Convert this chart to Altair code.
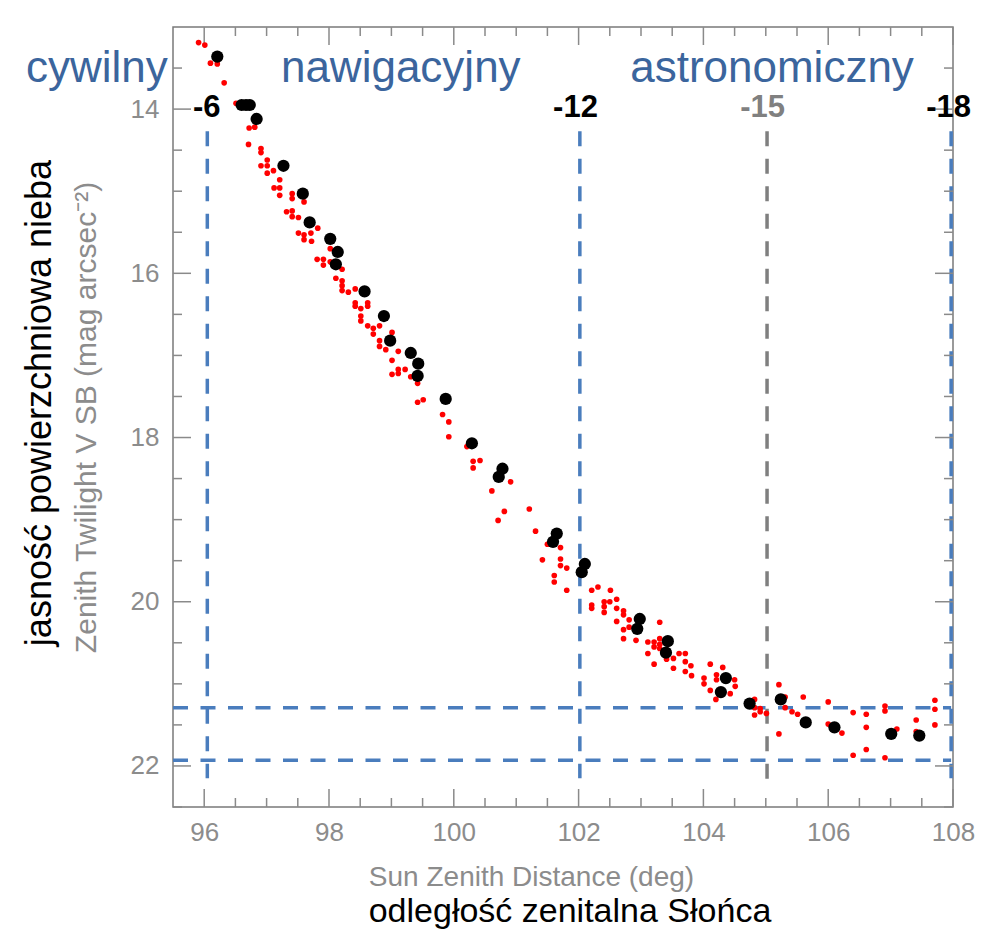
import altair as alt
import pandas as pd

# ---------------- data ----------------
red_x = [95.91, 96.01, 96.10, 96.21, 96.32, 96.51, 96.72, 96.81, 96.71, 96.91,
         96.91, 97.01, 96.91, 97.01, 97.11, 97.01, 97.21, 97.12, 97.21, 97.21,
         97.41, 97.41, 97.60, 97.32, 97.41, 97.41, 97.51, 97.82, 97.51, 97.60,
         97.71, 97.60, 97.72,
         98.02, 97.81, 97.91, 97.91, 98.02, 98.21, 98.11, 98.21, 98.21, 98.21,
         98.31, 98.42, 98.42, 98.42, 98.51, 98.62, 98.62, 98.51, 98.51, 98.62,
         98.71, 98.81, 98.71, 99.01, 98.81, 98.81, 98.91, 99.11, 99.01, 99.01,
         99.11, 99.11, 99.22, 99.31, 99.42, 99.42, 99.51, 99.82, 99.92,
         99.92, 100.21, 100.31, 100.42, 100.31, 100.91, 100.61, 100.81, 100.71, 101.21,
         101.31, 101.50, 101.71, 101.42, 101.71, 101.71, 101.81, 101.61, 101.61, 101.81,
         102.21, 102.31, 102.51, 102.21, 102.21, 102.41, 102.41, 102.41, 102.50, 102.61,
         102.61, 102.72, 102.72, 102.61, 102.81, 102.72, 102.72, 102.81, 102.92, 103.11,
         103.21, 103.21, 103.11, 103.30, 103.30, 103.30, 103.30, 103.21, 103.41, 103.52,
         103.52, 103.61, 103.71, 103.71, 103.80, 103.71, 103.81, 104.11, 104.01, 104.01,
         104.21, 104.21, 104.31, 104.11, 104.20, 104.43, 104.50, 104.51, 104.82, 104.82,
         104.91, 104.91, 104.82, 105.01, 105.21, 105.21, 105.31, 105.31, 105.42, 105.51,
         105.60, 106.00, 106.00, 106.22, 106.40, 106.61, 106.61, 106.40, 106.61, 106.91,
         106.91, 106.91, 107.10, 107.41, 107.41, 107.71, 107.71, 107.71]
red_y = [13.19, 13.22, 13.44, 13.45, 13.68, 13.93, 14.23, 14.22, 14.43, 14.48,
         14.53, 14.62, 14.69, 14.69, 14.75, 14.78, 14.86, 14.96, 14.96, 15.05,
         15.03, 15.09, 15.13, 15.25, 15.24, 15.31, 15.32, 15.45, 15.51, 15.53,
         15.51, 15.59, 15.61,
         15.70, 15.83, 15.83, 15.90, 15.86, 15.95, 16.06, 16.09, 16.15, 16.21,
         16.23, 16.19, 16.36, 16.40, 16.43, 16.36, 16.40, 16.52, 16.58, 16.64,
         16.67, 16.64, 16.74, 16.72, 16.82, 16.89, 16.93, 16.95, 17.06, 17.23,
         17.17, 17.22, 17.17, 17.26, 17.34, 17.57, 17.54, 17.72, 17.81,
         17.99, 18.11, 18.29, 18.28, 18.37, 18.54, 18.65, 18.90, 19.01, 18.87,
         19.14, 19.30, 19.34, 19.49, 19.48, 19.56, 19.59, 19.68, 19.76, 19.86,
         19.86, 19.82, 19.86, 20.04, 20.08, 20.00, 20.06, 20.13, 20.00, 19.97,
         20.08, 20.11, 20.16, 20.24, 20.22, 20.34, 20.45, 20.31, 20.47, 20.49,
         20.49, 20.55, 20.63, 20.25, 20.45, 20.52, 20.57, 20.76, 20.70, 20.81,
         20.69, 20.63, 20.63, 20.73, 20.78, 20.85, 20.90, 20.76, 20.93, 21.00,
         20.89, 20.95, 20.80, 21.08, 21.19, 21.12, 20.95, 21.03, 21.19, 21.29,
         21.30, 21.34, 21.38, 21.36, 21.01, 21.61, 21.16, 21.29, 21.34, 21.37,
         21.16, 21.22, 21.49, 21.60, 21.35, 21.37, 21.53, 21.87, 21.80, 21.27,
         21.33, 21.90, 21.55, 21.44, 21.58, 21.20, 21.31, 21.50]

black_x = [96.21, 96.60, 96.67, 96.73, 96.84, 97.27, 97.58, 97.69, 98.02, 98.14,
           98.11, 98.57, 98.88, 98.98, 99.31, 99.43, 99.42, 99.87, 100.29, 100.78,
           100.72, 101.65, 101.59, 102.10, 102.05, 102.98, 102.94, 103.43, 103.40, 104.36,
           104.28, 104.74, 105.24, 105.64, 106.10, 107.01, 107.46]
black_y = [13.36, 13.95, 13.95, 13.95, 14.12, 14.69, 15.03, 15.38, 15.58, 15.74,
           15.89, 16.22, 16.52, 16.82, 16.97, 17.10, 17.25, 17.53, 18.07, 18.38,
           18.48, 19.17, 19.27, 19.54, 19.64, 20.21, 20.33, 20.48, 20.62, 20.93,
           21.10, 21.24, 21.19, 21.47, 21.53, 21.61, 21.63]

x_major = [96, 98, 100, 102, 104, 106, 108]
x_minor = [96.5, 97, 97.5, 98.5, 99, 99.5, 100.5, 101, 101.5, 102.5, 103, 103.5,
           104.5, 105, 105.5, 106.5, 107, 107.5]
y_major = [14, 16, 18, 20, 22]
y_minor = [13.5, 14.5, 15, 15.5, 16.5, 17, 17.5, 18.5, 19, 19.5, 20.5, 21, 21.5, 22.5]

phase_names = ["cywilny", "nawigacyjny", "astronomiczny"]
phase_x = [94.28, 99.15, 105.10]
phase_y = [13.67, 13.67, 13.67]

angle_labels = ["-6", "-12", "-15", "-18"]
angle_x = [96.04, 101.95, 104.95, 107.93]
angle_y = [14.10, 14.10, 14.10, 14.10]
angle_colors = ["#000000", "#000000", "#808080", "#000000"]

vline_x = [96.05, 102.02, 105.02, 107.97]
vline_top = [14.27, 14.27, 14.27, 14.27]
vline_bottom = [22.15, 22.15, 22.18, 22.15]
vline_colors = ["#4a7dbd", "#4a7dbd", "#7f7f7f", "#4a7dbd"]

hline_y = [21.29, 21.93]
hline_x0 = [95.5, 95.5]
hline_x1 = [107.97, 107.97]

X_DOM = [95.5, 108]
Y_DOM = [13.0, 22.5]
W = 780
H = 780

FONT = "Liberation Sans"
GRAY = "#8c8c8c"
TICK = "#8a8a8a"
BLUE_TXT = "#3b659d"

xs = alt.Scale(domain=X_DOM, nice=False, zero=False)
ys = alt.Scale(domain=Y_DOM, nice=False, zero=False, reverse=True)

AX_X = alt.Axis(
    values=x_major, title="Sun Zenith Distance (deg)", ticks=False, domain=False,
    grid=False, labelFontSize=26, labelColor=GRAY, labelFont=FONT,
    labelPadding=12, labelFlush=False, titleFontSize=28, titleFontWeight="normal",
    titleColor=GRAY, titleFont=FONT, titlePadding=18, titleX=358)
AX_Y = alt.Axis(
    values=y_major, title="Zenith Twilight V SB (mag arcsec⁻²)", ticks=False,
    domain=False, grid=False, labelFontSize=26, labelColor=GRAY,
    labelFont=FONT, labelPadding=14, labelFlush=False,
    titleFontSize=30, titleFontWeight="normal", titleColor=GRAY,
    titleFont=FONT, titlePadding=29)


def xq(f):
    return alt.X(f, type="quantitative", scale=xs, axis=AX_X)


def yq(f):
    return alt.Y(f, type="quantitative", scale=ys, axis=AX_Y)


red = alt.Chart(pd.DataFrame({"x": red_x, "y": red_y})).mark_circle(
    size=32, color="#ff0000", opacity=1
).encode(x=xq("x"), y=yq("y"))

black = alt.Chart(pd.DataFrame({"x": black_x, "y": black_y})).mark_circle(
    size=150, color="#000000", opacity=1
).encode(x=xq("x"), y=yq("y"))

vlines = alt.Chart(pd.DataFrame({"x": vline_x, "y0": vline_top, "y1": vline_bottom,
                                 "c": vline_colors})).mark_rule(
    strokeWidth=3.5, strokeDash=[15, 12.5]
).encode(x=xq("x"), y=yq("y0"), y2="y1", color=alt.Color("c:N", scale=None))

hlines = alt.Chart(pd.DataFrame({"y": hline_y, "x0": hline_x0, "x1": hline_x1})).mark_rule(
    strokeWidth=3.5, strokeDash=[15, 12.5], color="#4a7dbd"
).encode(y=yq("y"), x=xq("x0"), x2="x1")


def xticks(vals, length):
    d = pd.DataFrame({"v": vals})
    base = alt.Chart(d).mark_rule(color=TICK, strokeWidth=1.5)
    bot = base.encode(x=xq("v"), y=alt.value(H), y2=alt.value(H - length))
    top = base.encode(x=xq("v"), y=alt.value(0), y2=alt.value(length))
    return [bot, top]


def yticks(vals, length):
    d = pd.DataFrame({"v": vals})
    base = alt.Chart(d).mark_rule(color=TICK, strokeWidth=1.5)
    left = base.encode(y=yq("v"), x=alt.value(0), x2=alt.value(length))
    right = base.encode(y=yq("v"), x=alt.value(W), x2=alt.value(W - length))
    return [left, right]


tick_layers = xticks(x_major, 18) + xticks(x_minor, 9) + yticks(y_major, 18) + yticks(y_minor, 9)

phases = alt.Chart(pd.DataFrame({"t": phase_names, "x": phase_x, "y": phase_y})).mark_text(
    font=FONT, fontSize=44, color=BLUE_TXT, align="center", baseline="alphabetic"
).encode(x=xq("x"), y=yq("y"), text="t:N")

angles = alt.Chart(pd.DataFrame({"t": angle_labels, "x": angle_x, "y": angle_y,
                                 "c": angle_colors})).mark_text(
    font=FONT, fontWeight="bold", fontSize=31, align="center",
    baseline="alphabetic"
).encode(x=xq("x"), y=yq("y"), text="t:N", color=alt.Color("c:N", scale=None))

ylab = alt.Chart(pd.DataFrame({"t": ["jasność powierzchniowa nieba"]})).mark_text(
    font=FONT, fontSize=36, color="#000000", angle=270, align="center", baseline="middle"
).encode(x=alt.value(-133), y=alt.value(376), text="t:N")

xlab = alt.Chart(pd.DataFrame({"t": ["odległość zenitalna Słońca"]})).mark_text(
    font=FONT, fontSize=34, color="#000000", align="center", baseline="middle"
).encode(x=alt.value(397), y=alt.value(885), text="t:N")

chart = alt.layer(
    vlines, hlines, *tick_layers, red, black, phases, angles, ylab, xlab
).properties(
    width=W, height=H,
    autosize=alt.AutoSizeParams(type="none"),
    padding={"left": 165, "top": 19, "right": 34, "bottom": 125},
    background="#ffffff",
).configure_view(stroke="#7a7a7a", strokeWidth=1.5)

chart.save("out.html", embed_options={"renderer": "svg", "actions": False})
